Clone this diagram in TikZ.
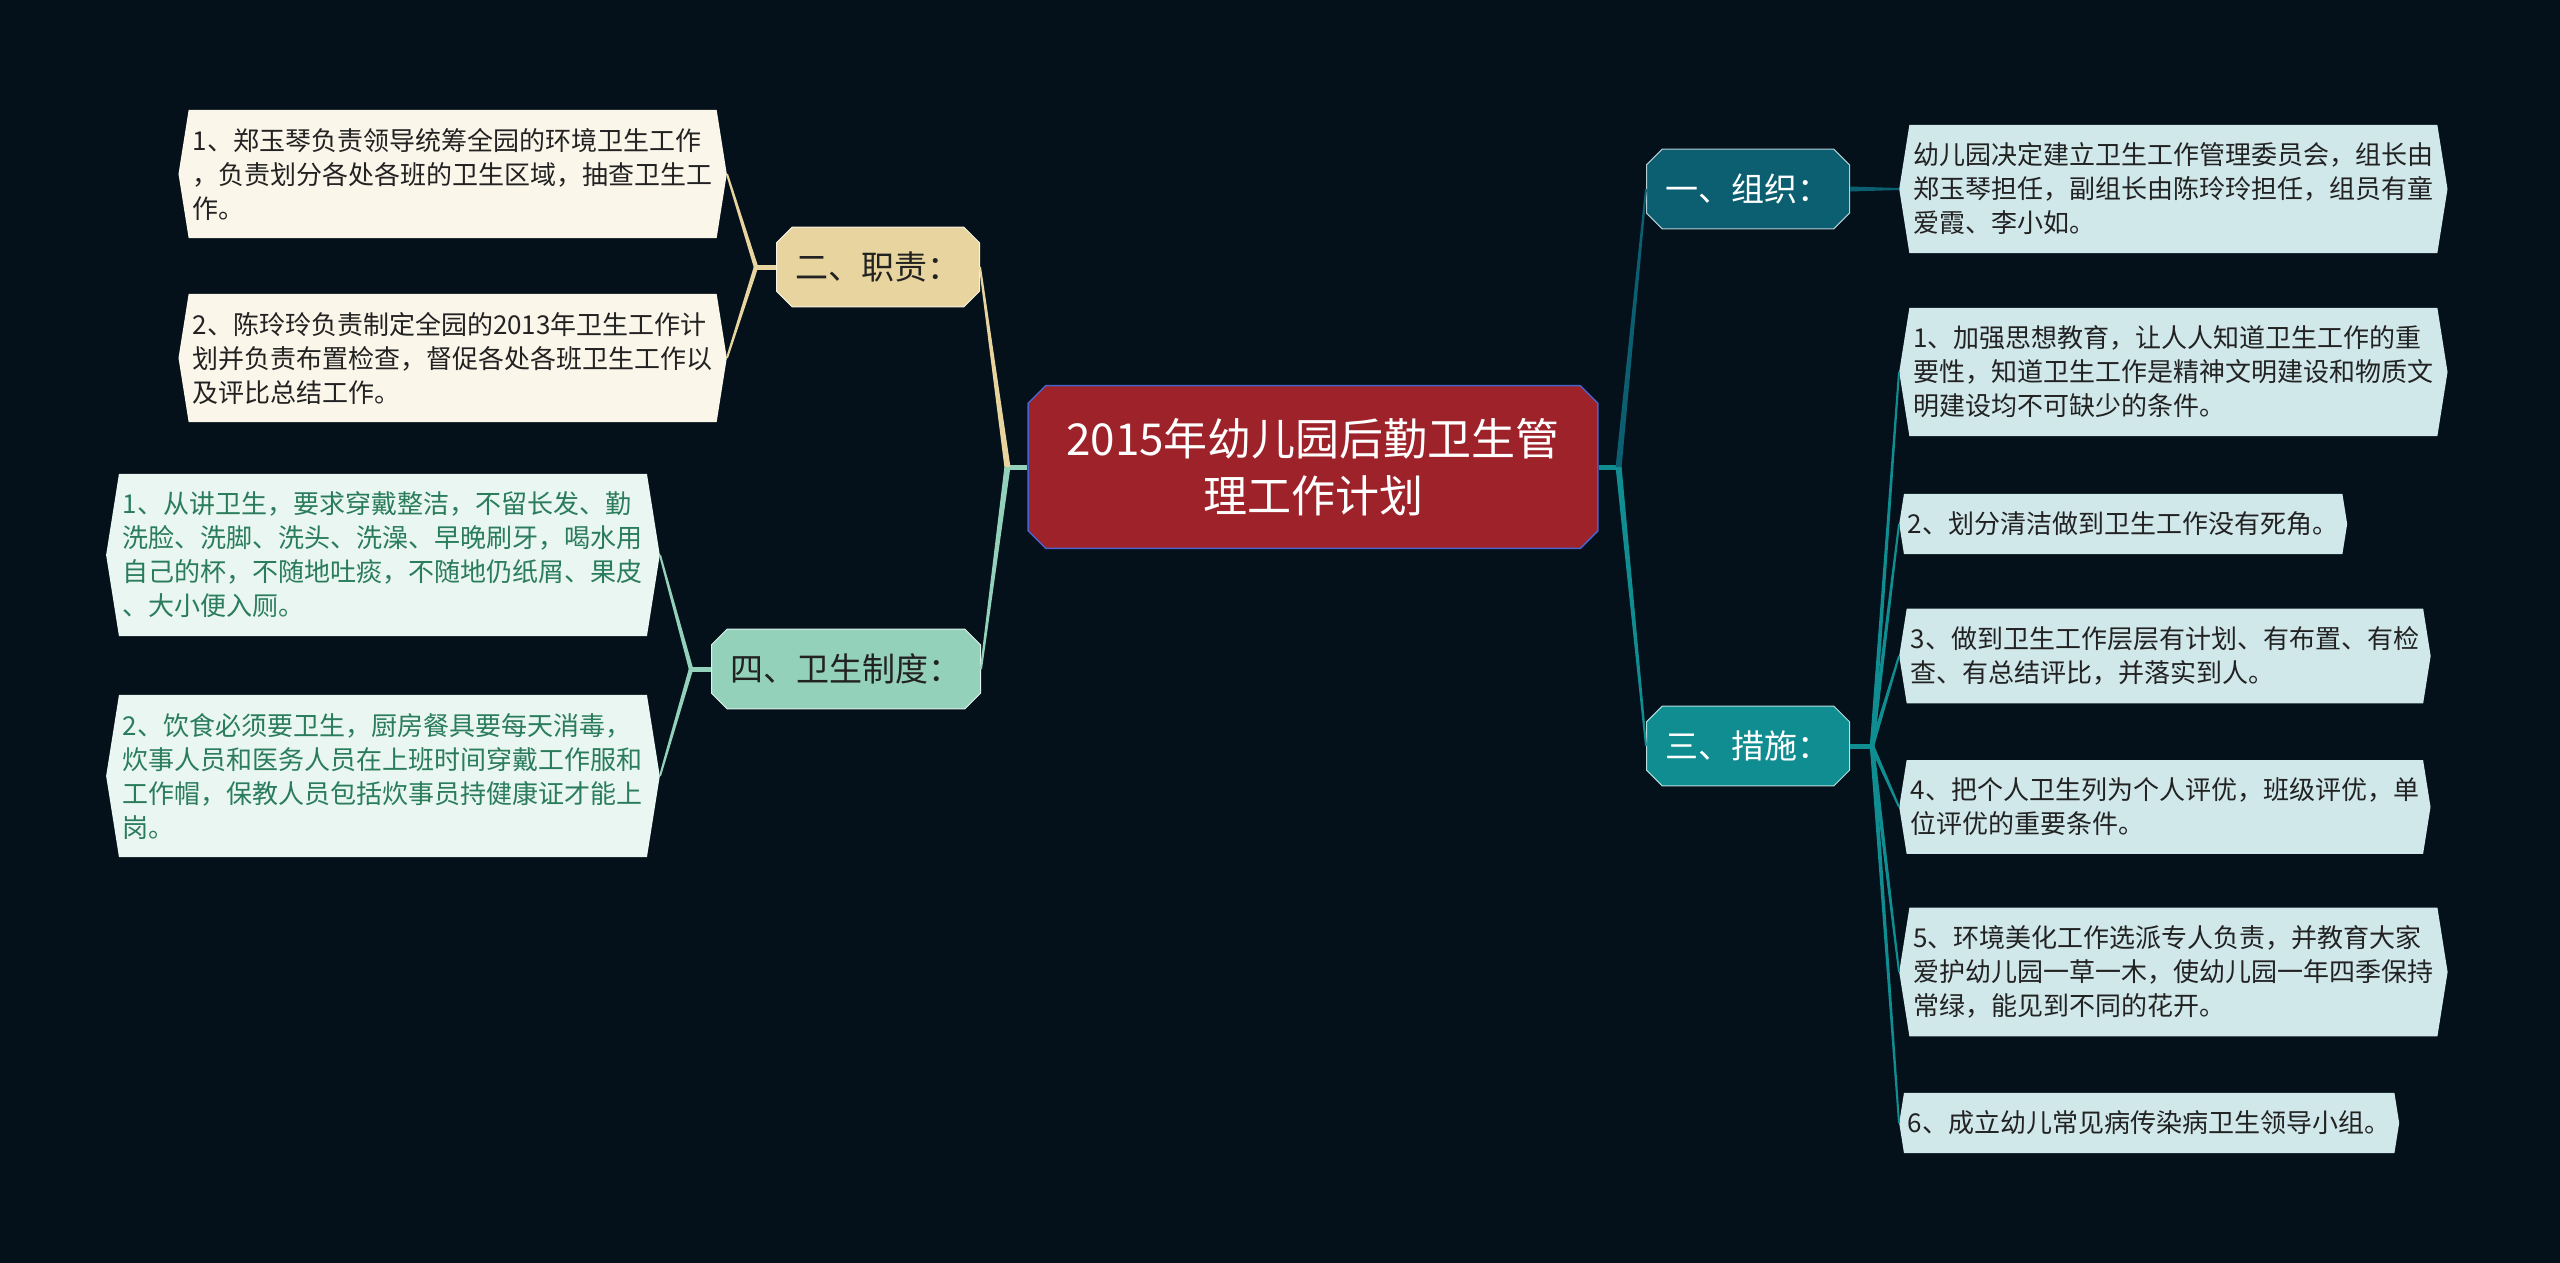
\documentclass[tikz,border=0pt]{standalone}
\usepackage{fontspec}
\setmainfont{Noto Sans CJK SC}
\usepackage{tikz}
\usetikzlibrary{shapes.misc,shapes.symbols,calc}
\definecolor{kgback}{HTML}{04111A}
\definecolor{kgred}{HTML}{9E2229}
\definecolor{kgrim}{HTML}{4A63C8}
\definecolor{kgsand}{HTML}{E8D49E}
\definecolor{kgsandleaf}{HTML}{FBF6EA}
\definecolor{kgmint}{HTML}{93D1BB}
\definecolor{kgmintleaf}{HTML}{E9F6F1}
\definecolor{kgminttext}{HTML}{2A7C5C}
\definecolor{kgdeep}{HTML}{0C5F70}
\definecolor{kgteal}{HTML}{0F8D91}
\definecolor{kgtealleaf}{HTML}{D1E8EB}
\definecolor{kgink}{HTML}{222222}
% tapered branch: colour, from, to, half width at start
\newcommand\kgtaper[4]{%
  \fill[#1] ($(#2)!#4!90:(#3)$) -- ($(#3)!1pt!-90:(#2)$)
    -- ($(#3)!1pt!90:(#2)$) -- ($(#2)!#4!-90:(#3)$) -- cycle;}

\begin{document}
\begin{tikzpicture}[x=1pt,y=-1pt,
  root/.style={chamfered rectangle, chamfered rectangle xsep=14pt, fill=kgred, draw=kgrim,
    line width=1.5pt, text=white, inner xsep=24pt, inner ysep=29pt, align=center,
    font=\fontsize{44}{57}\selectfont},
  topic/.style={chamfered rectangle, chamfered rectangle xsep=12pt, fill=#1, draw=white!70!#1,
    line width=1pt, inner xsep=7pt, inner ysep=21pt, font=\fontsize{33}{38}\selectfont},
  leaf/.style={signal, signal to=west and east, signal pointer angle=162, fill=#1,
    inner xsep=4pt, inner ysep=18pt, align=left, font=\fontsize{26}{34}\selectfont},
  stub/.style={draw=#1, line width=5pt}]
  \fill[kgback] (0,0) rectangle (2560,1263);
  \useasboundingbox (0,0) rectangle (2560,1263);

  % centre and main topics
  \node[root] (plan) at (1313,467) {2015年幼儿园后勤卫生管\\理工作计划};
  \node[topic=kgsand, text=kgink] (duty) at (878,267) {二、职责：};
  \node[topic=kgmint, text=kgink] (rule) at (846,669) {四、卫生制度：};
  \node[topic=kgdeep, text=white] (org) at (1748,189) {一、组织：};
  \node[topic=kgteal, text=white] (act) at (1748,746) {三、措施：};

  % left leaves
  \node[leaf=kgsandleaf, text=kgink, anchor=east] (duty1) at (727,174)
    {1、郑玉琴负责领导统筹全园的环境卫生工作\\，负责划分各处各班的卫生区域，抽查卫生工\\作。};
  \node[leaf=kgsandleaf, text=kgink, anchor=east] (duty2) at (727,358)
    {2、陈玲玲负责制定全园的2013年卫生工作计\\划并负责布置检查，督促各处各班卫生工作以\\及评比总结工作。};
  \node[leaf=kgmintleaf, text=kgminttext, anchor=east] (rule1) at (660,555)
    {1、从讲卫生，要求穿戴整洁，不留长发、勤\\洗脸、洗脚、洗头、洗澡、早晚刷牙，喝水用\\自己的杯，不随地吐痰，不随地仍纸屑、果皮\\、大小便入厕。};
  \node[leaf=kgmintleaf, text=kgminttext, anchor=east] (rule2) at (660,776)
    {2、饮食必须要卫生，厨房餐具要每天消毒，\\炊事人员和医务人员在上班时间穿戴工作服和\\工作帽，保教人员包括炊事员持健康证才能上\\岗。};

  % right leaves
  \node[leaf=kgtealleaf, text=kgink, anchor=west] (org1) at (1899,189)
    {幼儿园决定建立卫生工作管理委员会，组长由\\郑玉琴担任，副组长由陈玲玲担任，组员有童\\爱霞、李小如。};
  \node[leaf=kgtealleaf, text=kgink, anchor=west] (act1) at (1899,372)
    {1、加强思想教育，让人人知道卫生工作的重\\要性，知道卫生工作是精神文明建设和物质文\\明建设均不可缺少的条件。};
  \node[leaf=kgtealleaf, text=kgink, anchor=west] (act2) at (1899,524)
    {2、划分清洁做到卫生工作没有死角。};
  \node[leaf=kgtealleaf, text=kgink, anchor=west] (act3) at (1899,656)
    {3、做到卫生工作层层有计划、有布置、有检\\查、有总结评比，并落实到人。};
  \node[leaf=kgtealleaf, text=kgink, anchor=west] (act4) at (1899,807)
    {4、把个人卫生列为个人评优，班级评优，单\\位评优的重要条件。};
  \node[leaf=kgtealleaf, text=kgink, anchor=west] (act5) at (1899,972)
    {5、环境美化工作选派专人负责，并教育大家\\爱护幼儿园一草一木，使幼儿园一年四季保持\\常绿，能见到不同的花开。};
  \node[leaf=kgtealleaf, text=kgink, anchor=west] (act6) at (1899,1123)
    {6、成立幼儿常见病传染病卫生领导小组。};

  % connectors
  \draw[stub=kgmint] (plan.west) -- ++(-20,0) coordinate (pl);
  \kgtaper{kgsand}{pl}{duty.east}{3pt}
  \kgtaper{kgmint}{pl}{rule.east}{3pt}
  \draw[stub=kgteal] (plan.east) -- ++(20,0) coordinate (pr);
  \kgtaper{kgdeep}{pr}{org.west}{3pt}
  \kgtaper{kgteal}{pr}{act.west}{3pt}
  \draw[stub=kgsand] (duty.west) -- ++(-20,0) coordinate (dj);
  \kgtaper{kgsand}{dj}{duty1.east}{2.2pt}
  \kgtaper{kgsand}{dj}{duty2.east}{2.2pt}
  \draw[stub=kgmint] (rule.west) -- ++(-20,0) coordinate (rj);
  \kgtaper{kgmint}{rj}{rule1.east}{2.2pt}
  \kgtaper{kgmint}{rj}{rule2.east}{2.2pt}
  \kgtaper{kgdeep}{org.east}{org1.west}{2.5pt}
  \draw[stub=kgteal] (act.east) -- ++(22,0) coordinate (aj);
  \foreach \k in {1,...,6}
    {\kgtaper{kgteal}{aj}{act\k.west}{2.2pt}}
\end{tikzpicture}
\end{document}
